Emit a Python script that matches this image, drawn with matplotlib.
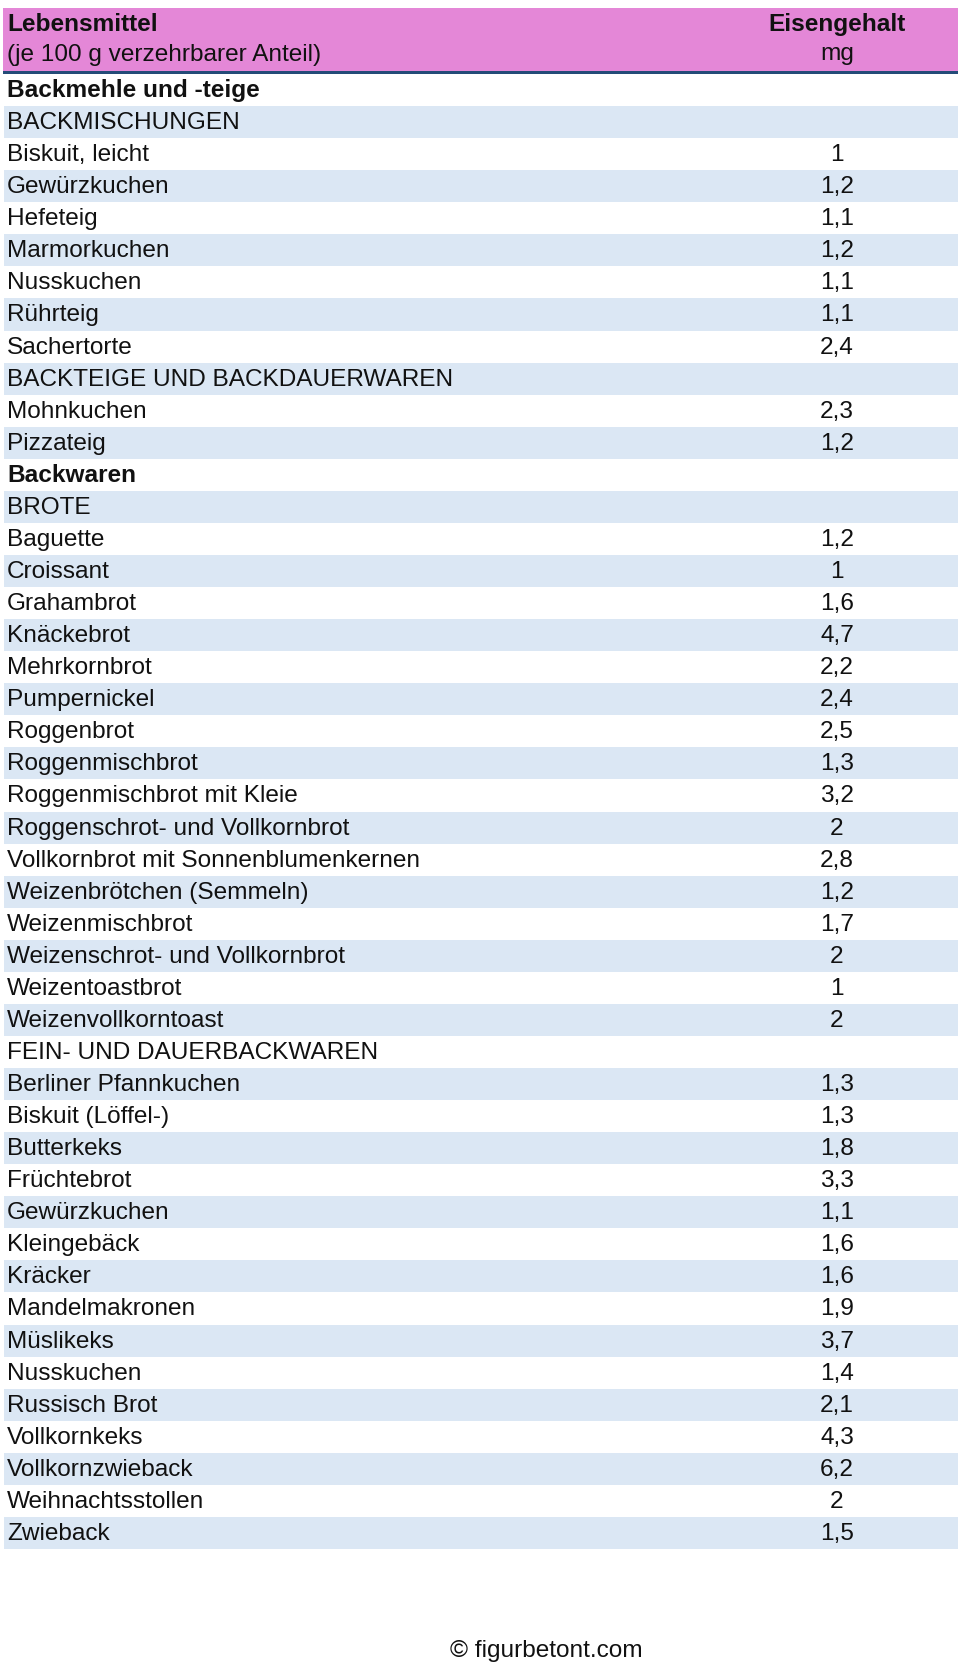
import matplotlib
matplotlib.use("Agg")
import matplotlib.pyplot as plt
from matplotlib.patches import Rectangle

# ---- data ----
header_left = ["Lebensmittel", "(je 100 g verzehrbarer Anteil)"]
header_right = ["Eisengehalt", "mg"]

foods = [
    "Backmehle und -teige", "BACKMISCHUNGEN", "Biskuit, leicht", "Gewürzkuchen",
    "Hefeteig", "Marmorkuchen", "Nusskuchen", "Rührteig", "Sachertorte",
    "BACKTEIGE UND BACKDAUERWAREN", "Mohnkuchen", "Pizzateig", "Backwaren", "BROTE",
    "Baguette", "Croissant", "Grahambrot", "Knäckebrot", "Mehrkornbrot",
    "Pumpernickel", "Roggenbrot", "Roggenmischbrot", "Roggenmischbrot mit Kleie",
    "Roggenschrot- und Vollkornbrot", "Vollkornbrot mit Sonnenblumenkernen",
    "Weizenbrötchen (Semmeln)", "Weizenmischbrot", "Weizenschrot- und Vollkornbrot",
    "Weizentoastbrot", "Weizenvollkorntoast", "FEIN- UND DAUERBACKWAREN",
    "Berliner Pfannkuchen", "Biskuit (Löffel-)", "Butterkeks", "Früchtebrot",
    "Gewürzkuchen", "Kleingebäck", "Kräcker", "Mandelmakronen", "Müslikeks",
    "Nusskuchen", "Russisch Brot", "Vollkornkeks", "Vollkornzwieback",
    "Weihnachtsstollen", "Zwieback",
]
iron_mg = [
    None, None, 1, 1.2, 1.1, 1.2, 1.1, 1.1, 2.4,
    None, 2.3, 1.2, None, None,
    1.2, 1, 1.6, 4.7, 2.2, 2.4, 2.5, 1.3, 3.2, 2, 2.8, 1.2, 1.7, 2, 1, 2,
    None, 1.3, 1.3, 1.8, 3.3, 1.1, 1.6, 1.6, 1.9, 3.7, 1.4, 2.1, 4.3, 6.2, 2, 1.5,
]
bold_rows = {"Backmehle und -teige", "Backwaren"}
footer = "© figurbetont.com"

# ---- style ----
W, H = 960, 1664
PINK = "#E487D7"
STRIPE = "#DBE7F4"
NAVY = "#244B78"
FONT = "Liberation Sans"
FS = 17.6

fig = plt.figure(figsize=(W / 100, H / 100), dpi=100)
ax = fig.add_axes([0, 0, 1, 1])
ax.set_xlim(0, W)
ax.set_ylim(H, 0)
ax.axis("off")

x0, x1 = 4, 958
val_x = 837
head_top, head_bot = 8, 71
line_h = 3.2
row_top = 74
row_h = (1549 - 74) / len(foods)

# header
ax.add_patch(Rectangle((x0 - 1, head_top), x1 - x0 + 1, head_bot - head_top,
                       facecolor=PINK, edgecolor="none"))
ax.add_patch(Rectangle((x0 - 1, head_bot), x1 - x0 + 1, line_h,
                       facecolor=NAVY, edgecolor="none"))
ax.text(7, 31, header_left[0], fontsize=FS, fontweight="bold", family=FONT,
        va="baseline", ha="left", color="#111111")
ax.text(7, 61, header_left[1], fontsize=FS, family=FONT,
        va="baseline", ha="left", color="#111111")
ax.text(val_x, 31, header_right[0], fontsize=FS, fontweight="bold", family=FONT,
        va="baseline", ha="center", color="#111111")
ax.text(val_x, 60, header_right[1], fontsize=FS, family=FONT,
        va="baseline", ha="center", color="#111111")

# rows
for i, (name, v) in enumerate(zip(foods, iron_mg)):
    top = row_top + i * row_h
    if i % 2 == 1:
        ax.add_patch(Rectangle((x0, top), x1 - x0, row_h,
                               facecolor=STRIPE, edgecolor="none"))
    base = top + 23
    ax.text(7, base, name, fontsize=FS, family=FONT,
            fontweight="bold" if name in bold_rows else "normal",
            va="baseline", ha="left", color="#111111")
    if v is not None:
        ax.text(val_x, base, f"{v:g}".replace(".", ","), fontsize=FS,
                family=FONT, va="baseline", ha="center", color="#111111")

ax.text(546, 1657, footer, fontsize=FS, family=FONT, va="baseline",
        ha="center", color="#111111")

fig.savefig("out.png", dpi=100, facecolor="white")
